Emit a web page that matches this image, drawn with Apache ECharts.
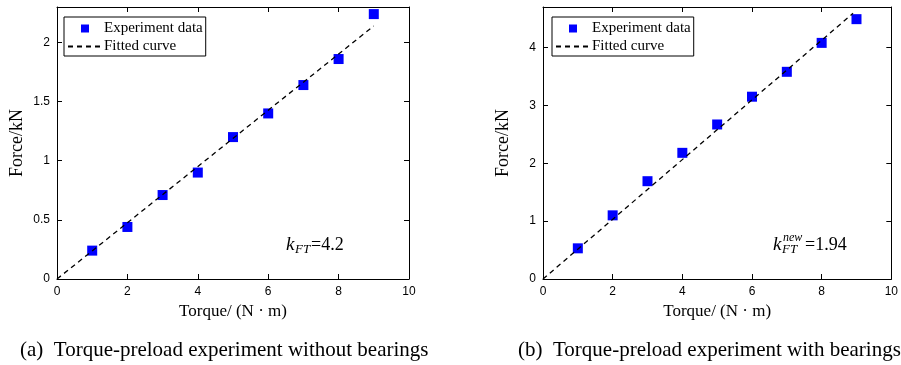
<!DOCTYPE html>
<html>
<head>
<meta charset="utf-8">
<script src="https://cdn.jsdelivr.net/npm/echarts@6/dist/echarts.min.js"></script>
<style>
  html, body { margin: 0; padding: 0; background: #fff; }
  #charts { width: 901px; height: 365px; }
</style>
</head>
<body>
<div id="charts"></div>
<script>
// torque values (N·m), same for both experiments
const torque = [1, 2, 3, 4, 5, 6, 7, 8, 9];
// force (kN) without bearings
const forceNoBearing = [0.24, 0.44, 0.71, 0.90, 1.20, 1.40, 1.64, 1.86, 2.24];
// force (kN) with bearings
const forceBearing = [0.53, 1.10, 1.69, 2.18, 2.67, 3.15, 3.58, 4.08, 4.49];
// fitted lines, end points
const fitNoBearing = [[0, 0], [9, 2.14]];
const fitBearing = [[0, 0], [8.9, 4.59]];
const xTicks = [0, 2, 4, 6, 8, 10];

const serif = '"Liberation Serif", "DejaVu Serif", serif';
const sans = '"Liberation Sans", Arial, sans-serif';

let myChart = echarts.init(document.getElementById('charts'));

function pts(xs, ys) {
    return xs.map((x, i) => [x, ys[i]]);
}

function xAxes(grid) {
    return [
        {
            gridIndex: grid, type: 'value', position: 'bottom',
            min: xTicks[0], max: xTicks[xTicks.length - 1], interval: 2,
            name: 'Torque/ (N · m)', nameLocation: 'middle', nameGap: 22,
            nameTextStyle: { fontFamily: serif, fontSize: 17, color: '#000' },
            axisLine: { onZero: false, lineStyle: { color: '#000', width: 1 } },
            axisTick: { inside: true, length: 5, lineStyle: { color: '#000' } },
            axisLabel: { fontFamily: sans, fontSize: 12, color: '#000', margin: 7 },
            splitLine: { show: false }
        },
        {
            gridIndex: grid, type: 'value', position: 'top',
            min: 0, max: 10, interval: 2,
            axisLine: { onZero: false, lineStyle: { color: '#000', width: 1 } },
            axisTick: { inside: true, length: 5, lineStyle: { color: '#000' } },
            axisLabel: { show: false },
            splitLine: { show: false }
        }
    ];
}

function yAxes(grid, max, interval) {
    return [
        {
            gridIndex: grid, type: 'value', position: 'left',
            min: 0, max: max, interval: interval,
            name: 'Force/kN', nameLocation: 'middle', nameGap: 31,
            nameTextStyle: { fontFamily: serif, fontSize: 18, color: '#000' },
            axisLine: { onZero: false, lineStyle: { color: '#000', width: 1 } },
            axisTick: { inside: true, length: 5, lineStyle: { color: '#000' } },
            axisLabel: { fontFamily: sans, fontSize: 12, color: '#000', margin: 7, showMaxLabel: false },
            splitLine: { show: false }
        },
        {
            gridIndex: grid, type: 'value', position: 'right',
            min: 0, max: max, interval: interval,
            axisLine: { onZero: false, lineStyle: { color: '#000', width: 1 } },
            axisTick: { inside: true, length: 5, lineStyle: { color: '#000' } },
            axisLabel: { show: false },
            splitLine: { show: false }
        }
    ];
}

function legendAt(left) {
    return {
        orient: 'vertical', left: left, top: 17,
        data: [
            { name: 'Experiment data', icon: 'path://M0,0h10v10h-10z' },
            { name: 'Fitted curve', itemStyle: { opacity: 0 } }
        ],
        symbolKeepAspect: true,
        backgroundColor: '#fff',
        borderColor: '#000', borderWidth: 1, borderRadius: 0,
        padding: [4, 3, 2, 3],
        itemWidth: 34, itemHeight: 8, itemGap: 3,
        textStyle: { fontFamily: serif, fontSize: 15, color: '#000', padding: [0, 0, 0, -3] },
        selectedMode: false
    };
}

function kText(x, y, sup, val) {
    const kids = [
        { type: 'text', x: x, y: y, style: { text: 'k', font: 'italic 19px ' + serif, fill: '#000', verticalAlign: 'middle' } },
        { type: 'text', x: x + 9, y: y + 5, style: { text: 'FT', font: 'italic 13px ' + serif, fill: '#000', verticalAlign: 'middle' } }
    ];
    let off = 25;
    if (sup) {
        kids.push({ type: 'text', x: x + 10, y: y - 7, style: { text: sup, font: 'italic 12px ' + serif, fill: '#000', verticalAlign: 'middle' } });
        off = 32;
    }
    kids.push({ type: 'text', x: x + off, y: y, style: { text: '=' + val, font: '18px ' + serif, fill: '#000', verticalAlign: 'middle' } });
    return { type: 'group', children: kids };
}

myChart.setOption({
    animation: false,
    grid: [
        { left: 57, top: 7, width: 352, height: 272 },
        { left: 543, top: 7, width: 352, height: 272 }
    ],
    xAxis: xAxes(0).concat(xAxes(1)),
    yAxis: yAxes(0, 2.3, 0.5).concat(yAxes(1, 4.7, 1)),
    legend: [legendAt(64), legendAt(552)],
    series: [
        {
            name: 'Fitted curve', type: 'line', xAxisIndex: 0, yAxisIndex: 0,
            data: fitNoBearing, symbol: 'none',
            lineStyle: { color: '#000', width: 1.3, type: [5, 4] },
            itemStyle: { color: '#000' }
        },
        {
            name: 'Experiment data', type: 'scatter', xAxisIndex: 0, yAxisIndex: 0,
            data: pts(torque, forceNoBearing), symbol: 'rect', symbolSize: 10,
            itemStyle: { color: '#0000ff', opacity: 1 }
        },
        {
            name: 'Fitted curve', type: 'line', xAxisIndex: 2, yAxisIndex: 2,
            data: fitBearing, symbol: 'none',
            lineStyle: { color: '#000', width: 1.3, type: [5, 4] },
            itemStyle: { color: '#000' }
        },
        {
            name: 'Experiment data', type: 'scatter', xAxisIndex: 2, yAxisIndex: 2,
            data: pts(torque, forceBearing), symbol: 'rect', symbolSize: 10,
            itemStyle: { color: '#0000ff', opacity: 1 }
        }
    ],
    graphic: [
        kText(286, 245, null, '4.2'),
        kText(773, 245, 'new', '1.94'),
        { type: 'text', x: 20, y: 350, style: { text: '(a)  Torque-preload experiment without bearings', font: '21px ' + serif, fill: '#000', verticalAlign: 'middle' } },
        { type: 'text', x: 518, y: 350, style: { text: '(b)  Torque-preload experiment with bearings', font: '21px ' + serif, fill: '#000', verticalAlign: 'middle' } }
    ]
});
</script>
</body>
</html>
